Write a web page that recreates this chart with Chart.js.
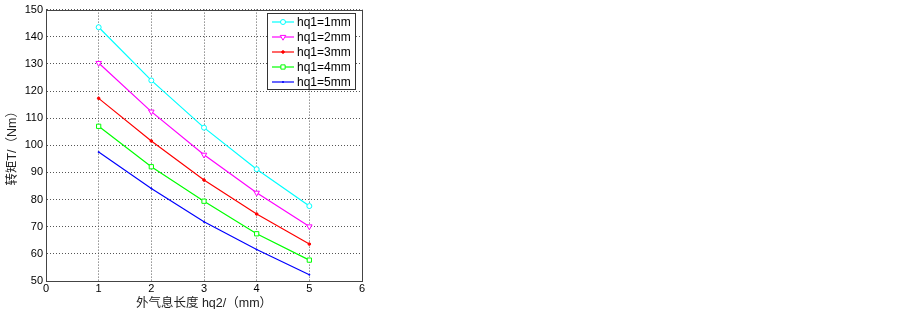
<!DOCTYPE html>
<html><head><meta charset="utf-8">
<script src="https://cdn.jsdelivr.net/npm/chart.js@4/dist/chart.umd.min.js"></script>
<style>html,body{margin:0;padding:0;background:#fff}#wrap{width:903px;height:309px}</style>
</head><body><div id="wrap"><canvas id="c" width="903" height="309"></canvas></div>
<script>
const xValues = [1, 2, 3, 4, 5];
const seriesLabels = ['hq1=1mm', 'hq1=2mm', 'hq1=3mm', 'hq1=4mm', 'hq1=5mm'];
const hq1_1 = [143.5, 123.9, 106.5, 91.2, 77.6];
const hq1_2 = [130.3, 112.4, 96.5, 82.5, 70.1];
const hq1_3 = [117.3, 101.6, 87.2, 74.7, 63.6];
const hq1_4 = [107.0, 92.1, 79.4, 67.4, 57.7];
const hq1_5 = [97.5, 84.1, 71.8, 61.6, 52.3];
const xTitle = '外气息长度 hq2/（mm）';
const yTitle = '转矩T/（Nm）';

const styles = [
  {color:'#00ffff', pointStyle:'circle', radius:2.5, rot:0, fill:'#ffffff'},
  {color:'#ff00ff', pointStyle:'triangle', radius:3.2, rot:180, fill:'#ffffff'},
  {color:'#ff0000', pointStyle:'circle', radius:1.3, rot:0, fill:'#ff0000'},
  {color:'#00ff00', pointStyle:'rect', radius:3, rot:0, fill:'#ffffff'},
  {color:'#0000ff', pointStyle:'circle', radius:0.6, rot:0, fill:'#0000ff'}
];
const allSeries = [hq1_1, hq1_2, hq1_3, hq1_4, hq1_5];
const datasets = allSeries.map((s, i) => ({
  label: seriesLabels[i],
  data: xValues.map((x, j) => ({x: x, y: s[j]})),
  borderColor: styles[i].color,
  backgroundColor: styles[i].fill,
  pointBorderColor: styles[i].color,
  pointBackgroundColor: styles[i].fill,
  pointStyle: styles[i].pointStyle,
  pointRadius: styles[i].radius,
  pointRotation: styles[i].rot,
  pointBorderWidth: 1,
  borderWidth: 1.2,
  tension: 0
}));

const boxPlugin = {
  id: 'boxLegend',
  afterDatasetsDraw(chart) {
    const ctx = chart.ctx, a = chart.chartArea;
    ctx.save();
    ctx.strokeStyle = '#444';
    ctx.lineWidth = 1;
    ctx.strokeRect(Math.round(a.left) + 0.5, Math.round(a.top) + 0.5, Math.round(a.right - a.left), Math.round(a.bottom - a.top));
    // legend
    const lx = 267, ly = 13, lw = 88, lh = 76;
    ctx.fillStyle = '#fff';
    ctx.fillRect(lx, ly, lw, lh);
    ctx.strokeStyle = '#333';
    ctx.strokeRect(lx + 0.5, ly + 0.5, lw, lh);
    ctx.font = '12px "Liberation Sans", Arial, sans-serif';
    ctx.textBaseline = 'middle';
    chart.data.datasets.forEach((ds, i) => {
      const y = ly + 9 + i * 15;
      ctx.strokeStyle = ds.borderColor;
      ctx.lineWidth = 1.2;
      ctx.beginPath(); ctx.moveTo(272, y); ctx.lineTo(294, y); ctx.stroke();
      ctx.fillStyle = ds.pointBackgroundColor;
      ctx.strokeStyle = ds.borderColor;
      ctx.lineWidth = 1;
      Chart.helpers.drawPoint(ctx, {pointStyle: ds.pointStyle, radius: ds.pointRadius, rotation: ds.pointRotation, borderWidth: 1}, 283, y);
      ctx.fillStyle = '#000';
      ctx.fillText(ds.label, 297, y + 0.5);
    });
    ctx.restore();
  }
};

const tickFont = {family: '"Liberation Sans", Arial, sans-serif', size: 11};
const titleFont = {family: '"Liberation Sans", "Noto Sans CJK SC", sans-serif', size: 12.5};

new Chart(document.getElementById('c'), {
  type: 'line',
  data: {datasets: datasets},
  plugins: [boxPlugin],
  options: {
    responsive: false,
    animation: false,
    devicePixelRatio: 1,
    layout: {padding: {left: 0, right: 541, top: 7, bottom: 0}},
    plugins: {legend: {display: false}, tooltip: {enabled: false}},
    scales: {
      x: {
        type: 'linear', min: 0, max: 6,
        ticks: {stepSize: 1, color: '#000', font: tickFont, padding: 1, maxRotation: 0},
        grid: {color: '#555', drawTicks: false, lineWidth: 1},
        border: {display: true, color: '#444', dash: [1, 2]},
        title: {display: true, text: xTitle, color: '#222', font: titleFont, padding: {top: 0, bottom: -2}},
        afterFit(s) { s.height = 28; }
      },
      y: {
        min: 50, max: 150,
        ticks: {stepSize: 10, color: '#000', font: tickFont, padding: 3},
        grid: {color: '#555', drawTicks: false, lineWidth: 1},
        border: {display: true, color: '#444', dash: [1, 2]},
        title: {display: true, text: yTitle, color: '#222', font: titleFont, padding: {top: 5, bottom: 0}},
        afterFit(s) { s.width = 46; }
      }
    }
  }
});
</script></body></html>
